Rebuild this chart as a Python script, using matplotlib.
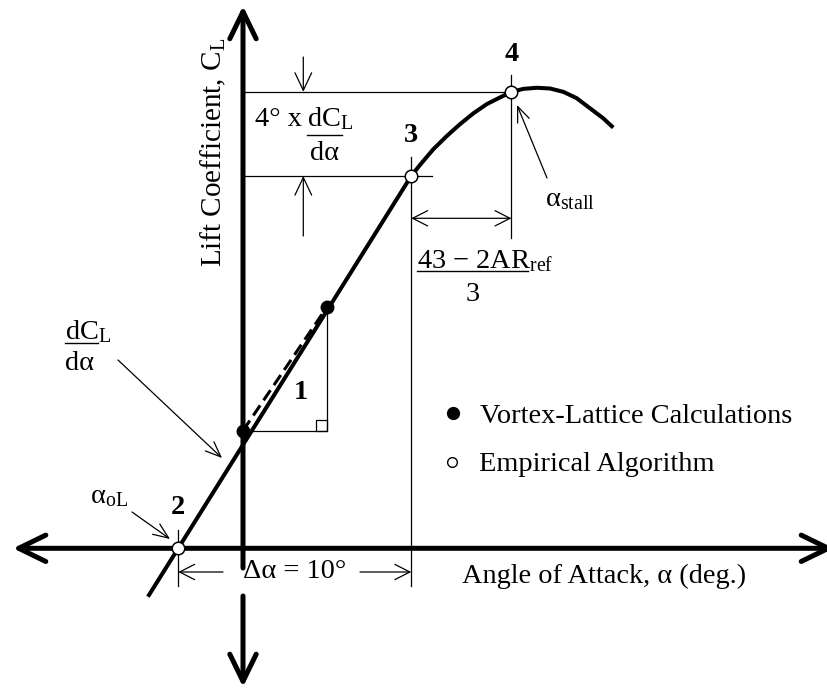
import matplotlib
matplotlib.use("Agg")
import matplotlib.pyplot as plt
from matplotlib.patches import FancyArrowPatch, Rectangle

plt.rcParams["font.family"] = ["Liberation Serif", "DejaVu Serif"]
plt.rcParams["mathtext.fontset"] = "custom"
plt.rcParams["mathtext.rm"] = "Liberation Serif"
plt.rcParams["mathtext.it"] = "Liberation Serif:italic"
plt.rcParams["mathtext.bf"] = "Liberation Serif:bold"
plt.rcParams["mathtext.default"] = "rm"

# lift curve: alpha (deg) vs CL, linear part then rounding over at stall
curve_alpha = [-4.08, 7.22, 7.60, 8.17, 8.74, 9.31, 9.88, 10.46, 11.03, 11.52,
               12.03, 12.61, 13.18, 13.75, 14.32, 14.89, 15.46, 15.89]
curve_cl = [-0.13, 1.000, 1.030, 1.072, 1.107, 1.139, 1.168, 1.193, 1.211, 1.226,
            1.234, 1.237, 1.235, 1.226, 1.209, 1.182, 1.155, 1.130]

# vortex-lattice results (filled)
vlm_alpha = [0.0, 3.59]
vlm_cl = [0.316, 0.647]

# empirical algorithm points (open): zero lift, end of linear range, stall
emp_alpha = [-2.78, 7.22, 11.52]
emp_cl = [0.0, 1.0, 1.226]
emp_labels = ["2", "3", "4"]

legend_labels = ["Vortex-Lattice Calculations", "Empirical Algorithm"]

W, H = 827, 689
DEG_PX = 23.3         # pixels per degree
CL_PX = 372.3         # pixels per unit CL
X0, Y0 = 243, 548.3   # where the axes cross, pixels from top-left
FS = 20.4


def at(x, y):
    # pixel position (from top-left) -> data coordinates
    return ((x - X0) / DEG_PX, (Y0 - y) / CL_PX)


def arrow(p0, p1, style="->", lw=0.9, hl=10.8, hw=5.0):
    ax.add_patch(FancyArrowPatch(
        p0, p1, arrowstyle=f"{style},head_length={hl},head_width={hw}",
        mutation_scale=1, lw=lw, color="black", shrinkA=0, shrinkB=0,
        capstyle="round", joinstyle="round", zorder=3))


def bar(x0, x1, y):
    # fraction bar under a text numerator
    (a0, c), (a1, _) = at(x0, y), at(x1, y)
    ax.plot([a0, a1], [c, c], color="black", lw=1.0)


fig = plt.figure(figsize=(W / 100, H / 100), dpi=100)
ax = fig.add_axes([0, 0, 1, 1])
ax.set_xlim(at(0, 0)[0], at(W, 0)[0])
ax.set_ylim(at(0, H)[1], at(0, 0)[1])
ax.axis("off")

# heavy axes with open arrowheads
arrow(at(13, Y0), at(834, Y0), "<->", lw=3.6, hl=19.5, hw=9.5)
arrow(at(X0, 568), at(X0, 6), "->", lw=3.6, hl=19.5, hw=9.5)
arrow(at(X0, 596), at(X0, 687), "->", lw=3.6, hl=19.5, hw=9.5)

a2, a3, a4 = emp_alpha
c2, c3, c4 = emp_cl
delta_alpha = a3 - a2

# lift curve and vortex-lattice slope
ax.plot(curve_alpha, curve_cl, color="black", lw=2.9,
        solid_capstyle="butt", solid_joinstyle="round", zorder=4)
ax.plot(vlm_alpha, vlm_cl, color="black", lw=2.2, dashes=(4, 2), zorder=4)

# slope triangle
ax.plot([vlm_alpha[0], vlm_alpha[1], vlm_alpha[1]],
        [vlm_cl[0], vlm_cl[0], vlm_cl[1]], color="black", lw=0.9)
ax.add_patch(Rectangle((vlm_alpha[1] - 11 / DEG_PX, vlm_cl[0]), 11 / DEG_PX,
                       11 / CL_PX, fill=False, lw=0.9, ec="black"))
ax.text(*at(301, 392), "1", fontsize=FS, fontweight="bold", ha="center", va="center")

# guide lines
ax.plot([0, a4], [c4, c4], color="black", lw=0.9)
ax.plot([0, a3 + 0.9], [c3, c3], color="black", lw=0.9)
ax.plot([a4, a4], [c4 + 0.045, 0.833], color="black", lw=0.9)
ax.plot([a3, a3], [c3 + 0.05, -0.101], color="black", lw=0.9)
ax.plot([a2, a2], [0.049, -0.101], color="black", lw=0.9)

# markers
ax.plot(vlm_alpha, vlm_cl, "o", ms=9, color="black", zorder=6)
ax.plot(emp_alpha, emp_cl, "o", ms=9, mfc="white", mec="black", mew=1.1, zorder=6)
for a, c, lab, dy in zip(emp_alpha, emp_cl, emp_labels, [41, 41, 37]):
    ax.annotate(lab, (a, c), xytext=(0, dy), textcoords="offset pixels",
                fontsize=FS, fontweight="bold", ha="center", va="center")

# 4 deg x dCL/dalpha bracket
a_br = at(303.3, 0)[0]
arrow((a_br, at(0, 57)[1]), (a_br, c4), hl=12.7, hw=6)
arrow((a_br, at(0, 236)[1]), (a_br, c3), hl=12.7, hw=6)
ax.text(*at(255, 126), "4° x", fontsize=FS, va="baseline")
ax.text(*at(307, 126), "dC$_L$", fontsize=FS, va="baseline")
bar(307, 342, 135)
ax.text(*at(310, 159.5), "dα", fontsize=FS, va="baseline")

# stall offset dimension
c_dim = at(0, 218.3)[1]
arrow((a3, c_dim), (a4, c_dim), "<->", hl=10.8, hw=5.5)
ax.text(*at(416.7, 268), "43 − 2AR$_{ref}$", fontsize=FS, va="baseline")
bar(416.7, 528.3, 271)
ax.text(*at(472.5, 301), "3", fontsize=FS, ha="center", va="baseline")

# stall angle
arrow(at(547, 178), at(517, 105), hl=11, hw=4.5)
ax.text(*at(545, 206.5), "α$_{stall}$", fontsize=FS, va="baseline")

# lift slope label
arrow(at(118, 360), at(222, 458), hl=11, hw=4.5)
ax.text(*at(65, 339.3), "dC$_L$", fontsize=FS, va="baseline")
bar(65, 98.3, 343)
ax.text(*at(65, 370), "dα", fontsize=FS, va="baseline")

# zero-lift angle
arrow(at(132, 512), at(170, 539), hl=11, hw=4.5)
ax.text(*at(90, 503), "α$_{oL}$", fontsize=FS, va="baseline")

# delta alpha dimension
c_da = at(0, 572)[1]
arrow(at(223, 572), (a2, c_da), hl=10.8, hw=5.5)
arrow(at(360, 572), (a3, c_da), hl=10.8, hw=5.5)
ax.text((a2 + a3) / 2, c_da, f"Δα = {delta_alpha:g}°", fontsize=FS,
        ha="center", va="center")

# axis titles
ax.text(*at(462, 583), "Angle of Attack, α (deg.)", fontsize=FS, va="baseline")
ax.text(*at(213, 152), "Lift Coefficient, C$_L$", fontsize=21, rotation=90,
        ha="center", va="center")

# legend
ax.plot(*at(453, 413), "o", ms=8.5, color="black")
ax.plot(*at(452, 462), "o", ms=7, mfc="white", mec="black", mew=1.0)
ax.text(*at(480, 423.3), legend_labels[0], fontsize=FS, va="baseline")
ax.text(*at(479, 470.7), legend_labels[1], fontsize=FS, va="baseline")

fig.savefig("out.png", dpi=100)
